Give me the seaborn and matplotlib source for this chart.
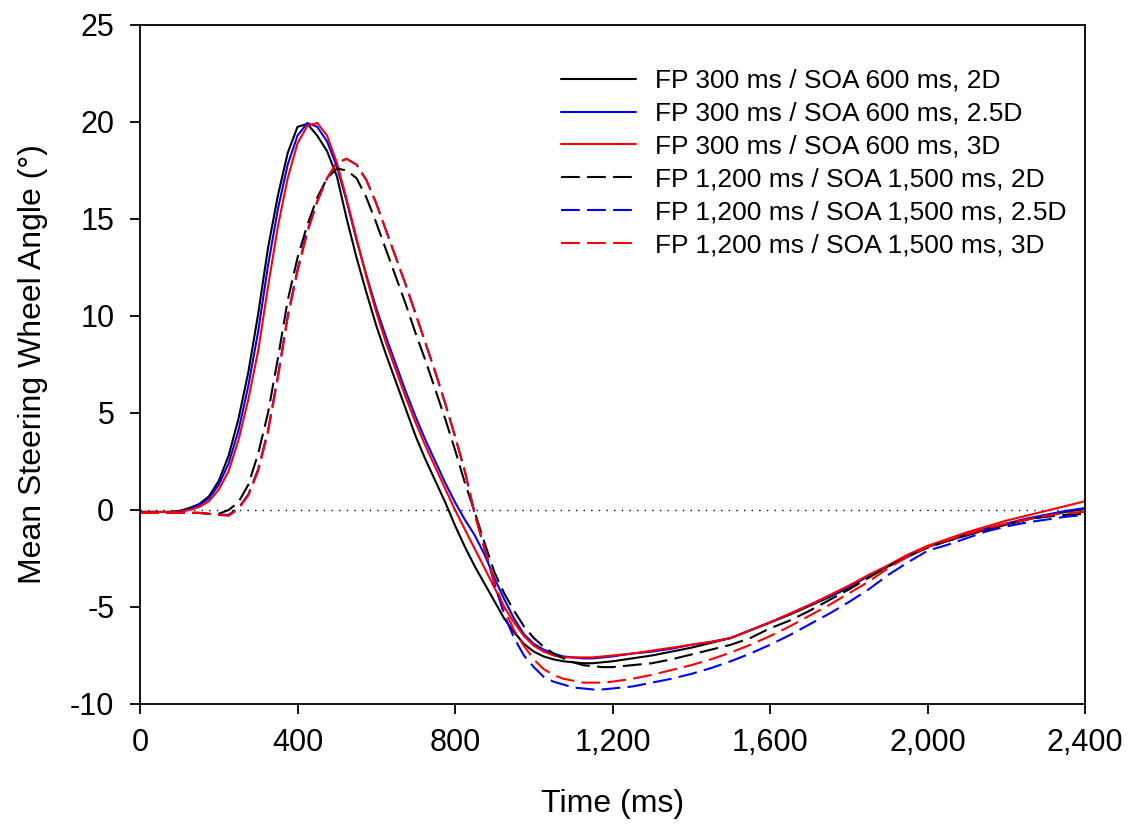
import pandas as pd
import matplotlib
matplotlib.use("Agg")
import matplotlib.pyplot as plt
import matplotlib.ticker as mticker
import seaborn as sns

# time axis (ms): 25 ms steps up to 1200, then 50 ms steps
times = list(range(0, 1201, 25)) + list(range(1250, 2401, 50))

fp300_2d = [-0.1, -0.1, -0.1, -0.1, -0.05, 0.1, 0.3, 0.7, 1.5, 2.8,
            4.7, 7.1, 10.1, 13.5, 16.2, 18.4, 19.75, 19.9, 19.3, 18.5,
            17.2, 15.0, 13.0, 11.2, 9.5, 8.0, 6.6, 5.2, 3.8, 2.6,
            1.5, 0.4, -0.8, -1.9, -2.9, -3.8, -4.7, -5.6, -6.3, -6.9,
            -7.3, -7.55, -7.7, -7.8, -7.85, -7.9, -7.9, -7.85, -7.8,
            -7.65, -7.5, -7.3, -7.1, -6.85, -6.6, -6.2, -5.8, -5.4, -4.95,
            -4.5, -4.0, -3.4, -2.9, -2.4, -1.9, -1.6, -1.3, -1.0, -0.75,
            -0.5, -0.3, -0.1, 0.05]

fp300_25d = [-0.1, -0.1, -0.1, -0.1, -0.1, 0.05, 0.25, 0.6, 1.3, 2.4,
             4.1, 6.4, 9.2, 12.6, 15.5, 17.8, 19.3, 19.95, 19.75, 19.0,
             17.7, 15.9, 13.9, 12.1, 10.4, 8.9, 7.5, 6.1, 4.8, 3.6,
             2.5, 1.4, 0.4, -0.5, -1.3, -2.3, -3.5, -4.6, -5.6, -6.4,
             -6.9, -7.2, -7.4, -7.55, -7.6, -7.65, -7.65, -7.6, -7.55,
             -7.4, -7.3, -7.15, -6.95, -6.8, -6.6, -6.2, -5.8, -5.35, -4.9,
             -4.45, -3.95, -3.4, -2.9, -2.4, -1.9, -1.55, -1.25, -0.95, -0.7,
             -0.45, -0.25, -0.05, 0.1]

fp300_3d = [-0.1, -0.1, -0.1, -0.1, -0.1, 0.0, 0.15, 0.45, 1.05, 2.0,
            3.6, 5.7, 8.2, 11.5, 14.6, 17.1, 18.9, 19.8, 19.95, 19.3,
            17.9, 16.0, 14.0, 12.0, 10.2, 8.6, 7.2, 5.8, 4.5, 3.3,
            2.2, 1.1, 0.0, -1.0, -2.0, -3.0, -4.0, -5.0, -5.8, -6.5,
            -7.0, -7.3, -7.5, -7.6, -7.6, -7.6, -7.6, -7.55, -7.5,
            -7.4, -7.25, -7.1, -6.95, -6.8, -6.6, -6.2, -5.8, -5.35, -4.9,
            -4.4, -3.9, -3.35, -2.85, -2.3, -1.85, -1.5, -1.15, -0.85, -0.55,
            -0.3, -0.05, 0.2, 0.45]

fp1200_2d = [-0.15, -0.15, -0.15, -0.15, -0.15, -0.15, -0.15, -0.2, -0.2, 0.0,
             0.4, 1.3, 2.9, 5.0, 7.8, 10.8, 13.0, 14.7, 16.1, 17.1,
             17.6, 17.5, 17.1, 16.1, 14.8, 13.4, 12.0, 10.6, 9.1, 7.7,
             6.2, 4.7, 3.1, 1.4, -0.1, -1.7, -3.2, -4.3, -5.2, -6.0,
             -6.6, -7.05, -7.4, -7.65, -7.85, -8.0, -8.05, -8.1, -8.1,
             -8.0, -7.9, -7.7, -7.45, -7.2, -6.95, -6.6, -6.1, -5.7, -5.2,
             -4.65, -4.1, -3.5, -2.9, -2.4, -1.95, -1.6, -1.3, -1.0, -0.75,
             -0.5, -0.35, -0.25, -0.2]

fp1200_25d = [-0.15, -0.15, -0.15, -0.15, -0.15, -0.15, -0.15, -0.2, -0.25, -0.25,
              0.1, 0.8, 2.1, 4.1, 6.9, 10.0, 12.4, 14.4, 15.9, 17.1,
              17.9, 18.1, 17.8, 17.0, 15.8, 14.4, 13.0, 11.6, 10.1, 8.6,
              7.1, 5.5, 3.8, 2.0, -0.2, -2.0, -3.8, -5.4, -6.6, -7.5,
              -8.1, -8.6, -8.85, -9.0, -9.15, -9.2, -9.25, -9.25, -9.2,
              -9.1, -8.9, -8.7, -8.45, -8.15, -7.8, -7.4, -6.95, -6.45, -5.9,
              -5.35, -4.75, -4.1, -3.35, -2.7, -2.1, -1.8, -1.45, -1.1, -0.85,
              -0.65, -0.5, -0.35, -0.25]

fp1200_3d = [-0.15, -0.15, -0.15, -0.15, -0.15, -0.15, -0.15, -0.2, -0.25, -0.3,
             0.05, 0.75, 2.0, 4.0, 6.8, 9.9, 12.3, 14.3, 15.9, 17.1,
             17.9, 18.1, 17.8, 17.0, 15.8, 14.4, 13.0, 11.6, 10.1, 8.6,
             7.1, 5.5, 3.8, 2.0, -0.2, -2.0, -3.7, -5.1, -6.2, -7.0,
             -7.7, -8.2, -8.5, -8.7, -8.8, -8.9, -8.9, -8.9, -8.85,
             -8.7, -8.5, -8.25, -8.0, -7.7, -7.35, -6.95, -6.5, -6.0, -5.45,
             -4.9, -4.3, -3.7, -3.0, -2.4, -1.9, -1.55, -1.25, -0.95, -0.7,
             -0.5, -0.3, -0.15, -0.1]

labels = ["FP 300 ms / SOA 600 ms, 2D",
          "FP 300 ms / SOA 600 ms, 2.5D",
          "FP 300 ms / SOA 600 ms, 3D",
          "FP 1,200 ms / SOA 1,500 ms, 2D",
          "FP 1,200 ms / SOA 1,500 ms, 2.5D",
          "FP 1,200 ms / SOA 1,500 ms, 3D"]
series = [fp300_2d, fp300_25d, fp300_3d, fp1200_2d, fp1200_25d, fp1200_3d]
colors = ["black", "#0000ff", "#ff0000", "black", "#0000ff", "#ff0000"]
dash_styles = ["", "", "", (9, 3.5), (9, 3.5), (9, 3.5)]

df = pd.concat([pd.DataFrame({"Time": times, "Angle": s, "Condition": lab})
                for s, lab in zip(series, labels)], ignore_index=True)

sns.set_style("ticks")
plt.rcParams["font.family"] = ["Liberation Sans", "DejaVu Sans"]
plt.rcParams["axes.unicode_minus"] = False
plt.rcParams["text.color"] = "black"
plt.rcParams["axes.labelcolor"] = "black"
plt.rcParams["xtick.color"] = "black"
plt.rcParams["ytick.color"] = "black"
plt.rcParams["axes.edgecolor"] = "black"

fig = plt.figure(figsize=(11.32, 8.25), dpi=100)
ax = fig.add_axes([0.1237, 0.1467, 0.8348, 0.8230])

ax.axhline(0, color="black", lw=1.0, ls=(0, (1, 4.5)), zorder=1)

sns.lineplot(data=df, x="Time", y="Angle", hue="Condition", style="Condition",
             hue_order=labels, style_order=labels,
             palette=dict(zip(labels, colors)),
             dashes=dict(zip(labels, dash_styles)),
             lw=1.5, ax=ax, zorder=2)

ax.set_xlim(0, 2400)
ax.set_ylim(-10, 25)
ax.set_xticks(range(0, 2401, 400))
ax.set_yticks(range(-10, 26, 5))
ax.xaxis.set_major_formatter(mticker.FuncFormatter(lambda v, p: f"{int(v):,}"))
ax.tick_params(direction="out", length=7.5, width=1.3, labelsize=22)
ax.tick_params(axis="x", pad=10)
ax.tick_params(axis="y", pad=11)
for sp in ax.spines.values():
    sp.set_visible(True)
    sp.set_linewidth(1.3)

ax.set_xlabel("Time (ms)", fontsize=23, labelpad=22)
ax.set_ylabel("Mean Steering Wheel Angle (°)", fontsize=23, labelpad=16)

ax.legend(loc="upper left", bbox_to_anchor=(0.4455, 0.9355), frameon=False,
          fontsize=19, handlelength=2.85, handletextpad=0.7,
          labelspacing=0.34, borderpad=0, borderaxespad=0)

fig.savefig("out.png", dpi=100)
